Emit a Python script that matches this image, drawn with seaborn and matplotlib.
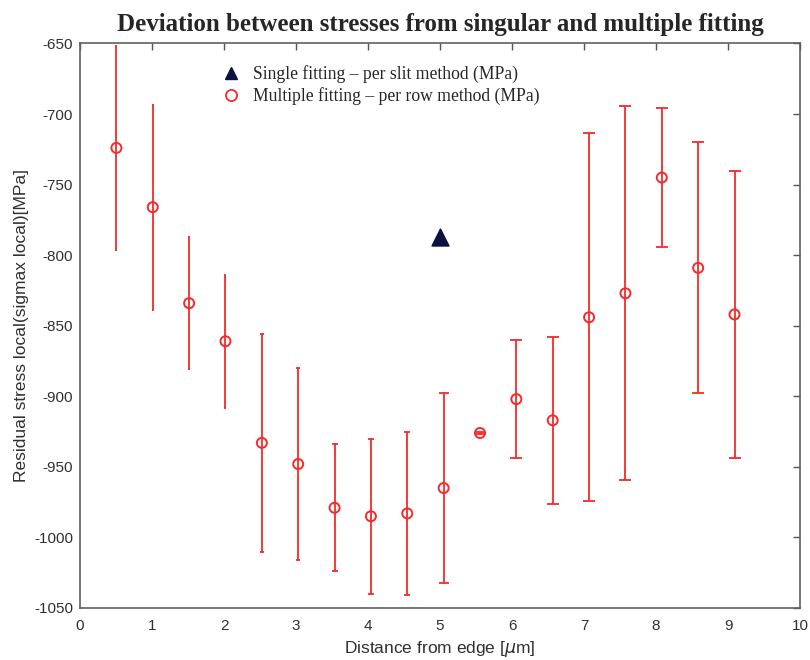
import matplotlib
matplotlib.use("Agg")
import matplotlib.pyplot as plt
import seaborn as sns
import pandas as pd
from matplotlib.lines import Line2D

# Distance from the edge (µm) for each row fit
distance = [0.505, 1.01, 1.515, 2.02, 2.525, 3.03, 3.535, 4.04, 4.545,
            5.05, 5.555, 6.06, 6.565, 7.07, 7.575, 8.08, 8.585, 9.09]
# Multiple fitting – per row stress (MPa) and its spread
row_stress = [-724, -766, -834, -861, -933, -948, -979, -985, -983,
              -965, -926, -902, -917, -844, -827, -745, -809, -842]
row_error = [72.5, 72.5, 47, 47, 77, 68, 45, 55, 58,
             67, 0.6, 42, 59, 130.5, 132.5, 49, 89, 102]
# Single fitting – per slit result
slit_distance = [5.0]
slit_stress = [-787]

rows = pd.DataFrame({"distance": distance, "stress": row_stress, "err": row_error})
slit = pd.DataFrame({"distance": slit_distance, "stress": slit_stress})

sns.set_theme(style="white")
plt.rcParams["font.family"] = ["Liberation Sans", "DejaVu Sans"]
plt.rcParams["axes.unicode_minus"] = False

fig = plt.figure(figsize=(8.1, 6.6), dpi=100)
ax = fig.add_axes([0.0988, 0.0788, 0.8889, 0.8553])

red = "#f52a2a"
caps = [1, 1, 1, 1, 1.2, 1.2, 2.5, 2.5, 2.5, 3.5, 3, 4.5, 4.5, 4.5, 4.5, 4.5, 4.5, 4.5]
for (_, r), cs in zip(rows.iterrows(), caps):
    ax.errorbar(r["distance"], r["stress"], yerr=r["err"], fmt="none",
                ecolor=red, elinewidth=1.3, capsize=cs, capthick=1.3, zorder=2)

sns.scatterplot(data=rows, x="distance", y="stress", ax=ax, marker="o",
                s=52, facecolor="none", edgecolor=red, linewidth=1.4, zorder=3)
sns.scatterplot(data=slit, x="distance", y="stress", ax=ax, marker="^",
                s=150, color="#0b1240", edgecolor="#0b1240", zorder=4)

ax.set_xlim(0, 10)
ax.set_ylim(-1050, -650)
ax.set_xticks(range(0, 11))
ax.set_yticks(range(-1050, -649, 50))
ax.tick_params(direction="in", length=5, width=1, colors="#555555",
               labelcolor="#303030", labelsize=11, top=True, right=True,
               labeltop=False, labelright=False)
ax.tick_params(axis="x", pad=8)
ax.tick_params(axis="y", pad=5)
for sp in ax.spines.values():
    sp.set_color("#606060")
    sp.set_linewidth(1.2)

ax.set_xlabel("Distance from edge [$\\mu$m]", fontsize=12.5, color="#303030", labelpad=4)
ax.set_ylabel("Residual stress local(sigmax local)[MPa]", fontsize=12.5,
              color="#303030", labelpad=4)
ax.set_title("Deviation between stresses from singular and multiple fitting",
             fontsize=18, fontweight="bold", family="Liberation Serif", pad=9)

handles = [
    Line2D([], [], linestyle="none", marker="^", markersize=9,
           color="#0b1240", label="Single fitting – per slit method (MPa)"),
    Line2D([], [], linestyle="none", marker="o", markersize=8,
           markerfacecolor="none", markeredgecolor=red, markeredgewidth=1.3,
           label="Multiple fitting – per row method (MPa)"),
]
ax.legend(handles=handles, loc="upper left", bbox_to_anchor=(0.163, 0.99),
          frameon=False, handletextpad=0.25, labelspacing=0.25,
          prop={"family": "Liberation Serif", "size": 12.7})

fig.savefig("out.png", dpi=100)
